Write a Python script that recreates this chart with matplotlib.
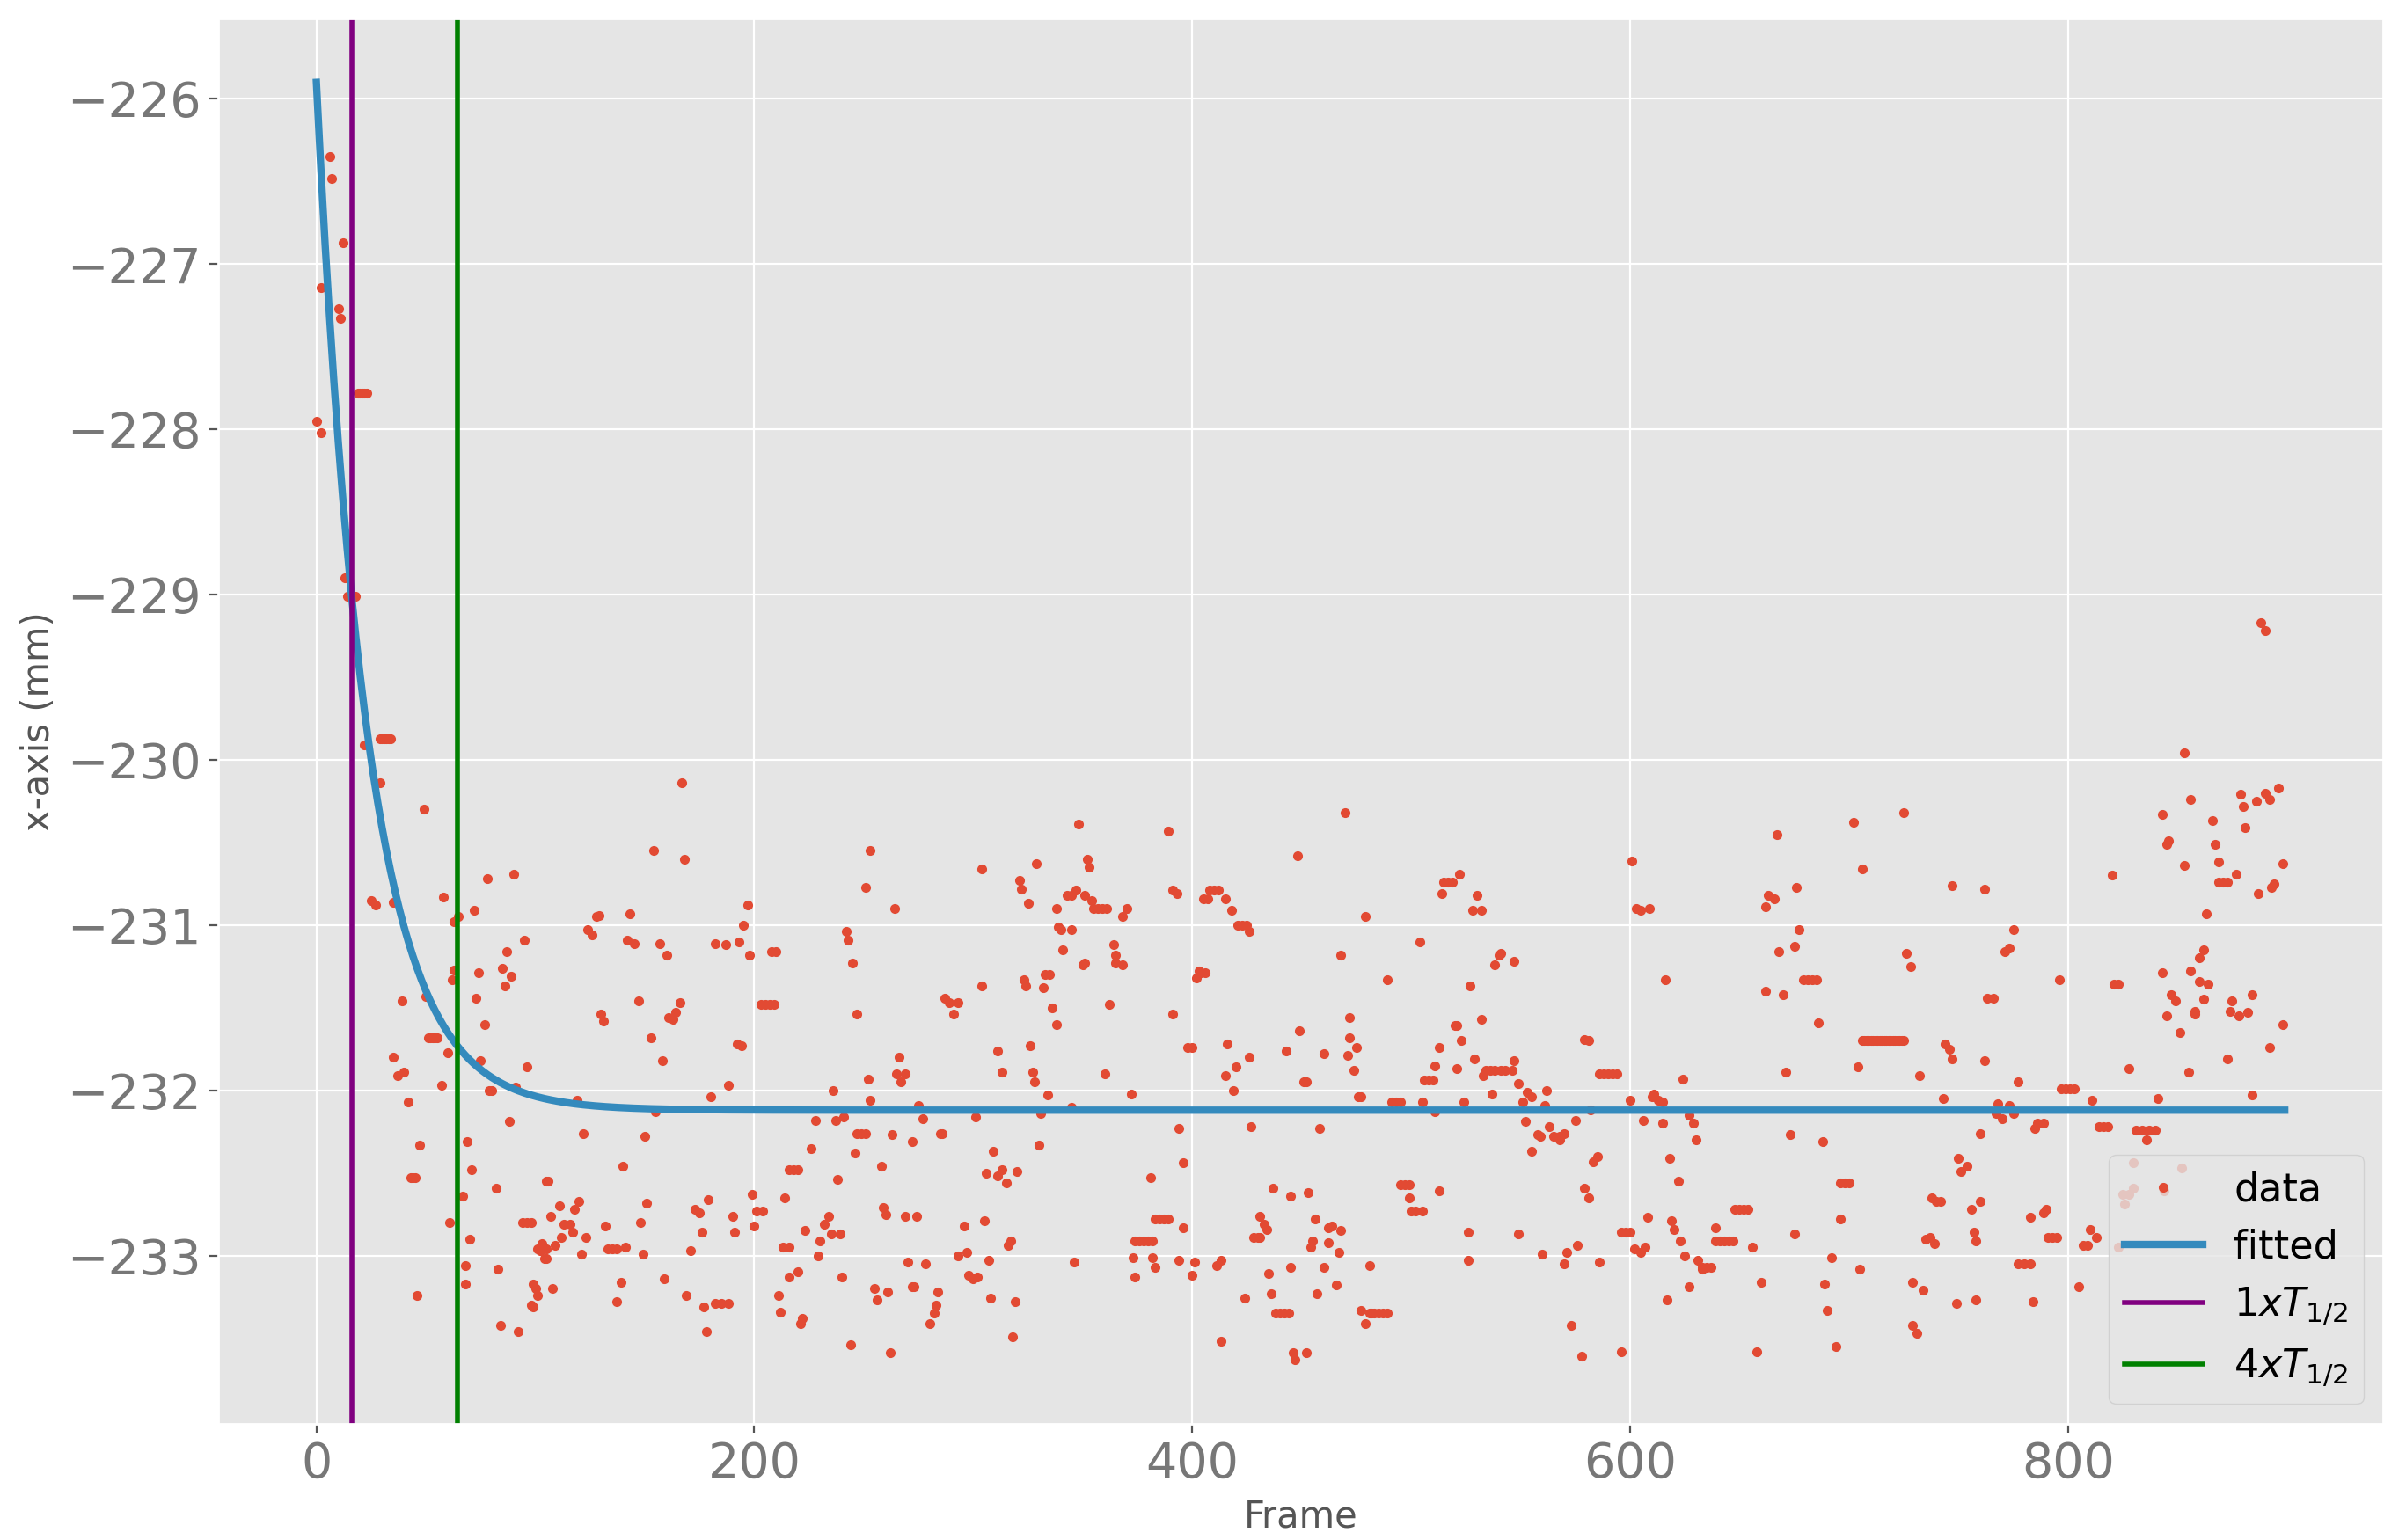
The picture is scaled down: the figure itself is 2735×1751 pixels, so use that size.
import numpy as np
import matplotlib
matplotlib.use("Agg")
import matplotlib.pyplot as plt

plt.style.use('ggplot')

# fit parameters (exponential decay towards a plateau)
fit_offset = -232.12
fit_amp = 6.22
t_half = 16.1
last_frame = 899

# data points, (frame, position) per stretch of frames
seg_0_105 = [(0,-227.95),(2,-228.02),(2,-227.14),(6,-226.35),(7,-226.48),(10,-227.27),(11,-227.33),(12,-226.87),
    (13,-228.9),(14,-229.01),(18,-229.01),(19,-227.78),(20,-227.78),(21,-227.78),(22,-227.78),(23,-227.78),
    (22,-229.91),(29,-229.87),(30,-229.87),(31,-229.87),(32,-229.87),(33,-229.87),(34,-229.87),(29,-230.14),
    (25,-230.85),(27,-230.88),(35,-230.86),(49,-230.30),(58,-230.83),(63,-230.98),(65,-230.95),(72,-230.91),
    (78,-230.72),(90,-230.69),(87,-231.16),(85,-231.26),(89,-231.31),(86,-231.37),(95,-231.09),(63,-231.27),
    (62,-231.33),(74,-231.29),(73,-231.44),(77,-231.6),(39,-231.46),(50,-231.43),(51,-231.68),(52,-231.68),
    (53,-231.68),(54,-231.68),(55,-231.68),(60,-231.77),(75,-231.82),(35,-231.8),(37,-231.91),(40,-231.89),
    (42,-232.07),(57,-231.97),(79,-232.0),(80,-232.0),(91,-231.98),(96,-231.86),(88,-232.19),(47,-232.33),
    (69,-232.31),(71,-232.48),(43,-232.53),(44,-232.53),(45,-232.53),(67,-232.64),(82,-232.59),(61,-232.8),
    (70,-232.9),(94,-232.8),(96,-232.8),(98,-232.8),(105,-232.55),(68,-233.06),(68,-233.17),(83,-233.08),
    (101,-232.96),(103,-232.96),(105,-232.96),(104,-233.02),(99,-233.17),(101,-233.24),(98,-233.3),
    (46,-233.24),(84,-233.42),(92,-233.46)]

seg_106_177 = [(167,-230.14),(154,-230.55),(168,-230.60),(128,-230.95),(129,-230.94),(143,-230.93),(124,-231.03),
    (126,-231.06),(142,-231.09),(145,-231.11),(157,-231.11),(160,-231.18),(147,-231.46),(166,-231.47),
    (130,-231.54),(131,-231.58),(161,-231.56),(163,-231.57),(164,-231.53),(153,-231.68),(158,-231.82),
    (119,-232.06),(155,-232.13),(122,-232.26),(150,-232.28),(140,-232.46),(106,-232.55),(120,-232.67),
    (118,-232.72),(111,-232.70),(107,-232.76),(113,-232.81),(116,-232.81),(117,-232.86),(112,-232.89),
    (109,-232.94),(123,-232.89),(132,-232.82),(148,-232.80),(151,-232.68),(103,-232.93),(102,-232.97),
    (105,-233.02),(121,-232.99),(133,-232.96),(135,-232.96),(137,-232.96),(141,-232.95),(149,-232.99),
    (171,-232.97),(173,-232.72),(175,-232.74),(176,-232.86),(100,-233.2),(108,-233.2),(99,-233.31),
    (139,-233.16),(137,-233.28),(159,-233.14),(169,-233.24)]

seg_178_253 = [(253,-230.55),(251,-230.77),(197,-230.88),(195,-231.0),(182,-231.11),(187,-231.12),(193,-231.1),
    (198,-231.18),(208,-231.16),(210,-231.16),(242,-231.04),(243,-231.09),(245,-231.23),(203,-231.48),
    (205,-231.48),(207,-231.48),(209,-231.48),(247,-231.54),(192,-231.72),(194,-231.73),(188,-231.97),
    (180,-232.04),(236,-232.0),(252,-231.93),(253,-232.06),(228,-232.18),(237,-232.18),(241,-232.16),
    (247,-232.26),(249,-232.26),(251,-232.26),(226,-232.35),(246,-232.38),(216,-232.48),(218,-232.48),
    (220,-232.48),(238,-232.54),(179,-232.66),(199,-232.63),(214,-232.65),(190,-232.76),(201,-232.73),
    (204,-232.73),(200,-232.82),(191,-232.86),(234,-232.76),(232,-232.81),(223,-232.85),(235,-232.87),
    (239,-232.87),(230,-232.91),(213,-232.95),(216,-232.95),(229,-233.0),(216,-233.13),(220,-233.1),
    (240,-233.13),(211,-233.24),(212,-233.34),(222,-233.38),(221,-233.41),(177,-233.31),(182,-233.29),
    (185,-233.29),(188,-233.29),(178,-233.46),(244,-233.54)]

seg_254_330 = [(264,-230.90),(304,-230.66),(321,-230.73),(322,-230.78),(325,-230.87),(329,-230.63),(287,-231.44),
    (289,-231.47),(293,-231.47),(291,-231.54),(304,-231.37),(323,-231.33),(324,-231.37),(266,-231.80),
    (265,-231.9),(269,-231.9),(267,-231.95),(311,-231.76),(313,-231.89),(326,-231.73),(327,-231.89),
    (328,-231.95),(275,-232.09),(277,-232.17),(301,-232.16),(263,-232.27),(272,-232.31),(285,-232.26),
    (286,-232.26),(330,-232.33),(258,-232.46),(309,-232.37),(306,-232.5),(311,-232.52),(313,-232.48),
    (315,-232.56),(320,-232.49),(259,-232.71),(260,-232.75),(269,-232.76),(274,-232.76),(296,-232.82),
    (305,-232.79),(317,-232.91),(316,-232.94),(293,-233.0),(297,-232.98),(307,-233.03),(270,-233.04),
    (278,-233.05),(298,-233.12),(300,-233.14),(302,-233.13),(255,-233.2),(256,-233.27),(261,-233.22),
    (272,-233.19),(273,-233.19),(284,-233.22),(283,-233.3),(282,-233.35),(280,-233.41),(308,-233.26),
    (319,-233.28),(318,-233.49),(262,-233.59)]

seg_331_406 = [(348,-230.39),(389,-230.43),(352,-230.6),(353,-230.65),(391,-230.79),(393,-230.81),(405,-230.84),
    (343,-230.82),(345,-230.82),(347,-230.79),(351,-230.82),(354,-230.85),(355,-230.9),(357,-230.9),
    (359,-230.9),(361,-230.9),(338,-230.9),(370,-230.9),(368,-230.95),(339,-231.01),(340,-231.03),
    (345,-231.03),(341,-231.15),(364,-231.12),(365,-231.18),(365,-231.23),(368,-231.24),(350,-231.24),
    (351,-231.23),(333,-231.3),(335,-231.3),(332,-231.38),(403,-231.28),(402,-231.32),(362,-231.48),
    (336,-231.5),(338,-231.6),(391,-231.54),(398,-231.74),(400,-231.74),(360,-231.9),(334,-232.03),
    (372,-232.02),(345,-232.1),(331,-232.14),(394,-232.23),(396,-232.44),(381,-232.53),(383,-232.78),
    (385,-232.78),(387,-232.78),(389,-232.78),(396,-232.83),(374,-232.91),(376,-232.91),(378,-232.91),
    (380,-232.91),(382,-232.91),(346,-233.04),(373,-233.01),(382,-233.01),(383,-233.07),(394,-233.03),
    (401,-233.04),(400,-233.12),(374,-233.13)]

seg_407_482 = [(470,-230.32),(448,-230.58),(479,-230.95),(408,-230.79),(410,-230.79),(412,-230.79),(407,-230.84),
    (415,-230.84),(418,-230.91),(421,-231.0),(423,-231.0),(425,-231.0),(426,-231.04),(468,-231.18),
    (404,-231.29),(406,-231.29),(472,-231.56),(472,-231.68),(475,-231.74),(471,-231.79),(474,-231.88),
    (476,-232.04),(477,-232.04),(449,-231.64),(416,-231.72),(443,-231.76),(460,-231.78),(426,-231.80),
    (420,-231.86),(415,-231.91),(419,-232.0),(451,-231.95),(452,-231.95),(427,-232.22),(458,-232.23),
    (437,-232.59),(445,-232.64),(453,-232.62),(431,-232.76),(433,-232.81),(434,-232.84),(428,-232.89),
    (430,-232.89),(431,-232.89),(456,-232.78),(462,-232.83),(464,-232.82),(468,-232.85),(455,-232.91),
    (454,-232.95),(462,-232.92),(467,-232.98),(411,-233.06),(413,-233.03),(435,-233.11),(445,-233.07),
    (460,-233.07),(481,-233.06),(466,-233.18),(424,-233.26),(436,-233.23),(457,-233.23),(438,-233.35),
    (440,-233.35),(442,-233.35),(444,-233.35),(477,-233.33),(482,-233.35),(479,-233.41),(413,-233.52),
    (446,-233.59),(447,-233.63),(452,-233.59)]

seg_483_556 = [(522,-230.69),(515,-230.74),(517,-230.74),(519,-230.74),(514,-230.81),(530,-230.82),(528,-230.91),
    (532,-230.91),(504,-231.1),(540,-231.18),(541,-231.17),(538,-231.24),(547,-231.22),(489,-231.33),
    (527,-231.37),(532,-231.57),(520,-231.61),(521,-231.61),(523,-231.70),(513,-231.74),(511,-231.85),
    (529,-231.81),(521,-231.87),(547,-231.82),(534,-231.88),(536,-231.88),(538,-231.88),(533,-231.91),
    (541,-231.88),(543,-231.88),(546,-231.88),(506,-231.94),(508,-231.94),(510,-231.94),(549,-231.96),
    (537,-232.02),(553,-232.01),(555,-232.04),(551,-232.07),(491,-232.07),(493,-232.07),(495,-232.07),
    (505,-232.07),(524,-232.07),(511,-232.13),(552,-232.19),(555,-232.37),(495,-232.57),(497,-232.57),
    (499,-232.57),(499,-232.65),(500,-232.73),(502,-232.73),(505,-232.73),(513,-232.61),(526,-232.86),
    (549,-232.87),(526,-233.03),(481,-233.35),(483,-233.35),(485,-233.35),(487,-233.35),(489,-233.35)]

seg_557_633 = [(601,-230.61),(603,-230.9),(605,-230.91),(609,-230.9),(616,-231.33),(579,-231.69),(581,-231.7),
    (586,-231.9),(588,-231.9),(590,-231.9),(592,-231.9),(594,-231.9),(624,-231.93),(562,-232.0),
    (561,-232.09),(600,-232.06),(611,-232.02),(610,-232.04),(613,-232.06),(615,-232.07),(582,-232.12),
    (575,-232.18),(606,-232.18),(615,-232.2),(627,-232.15),(629,-232.2),(630,-232.3),(558,-232.27),
    (559,-232.28),(563,-232.22),(565,-232.28),(568,-232.28),(568,-232.3),(570,-232.26),(585,-232.4),
    (583,-232.43),(618,-232.41),(622,-232.55),(579,-232.59),(581,-232.65),(608,-232.77),(619,-232.79),
    (620,-232.84),(596,-232.86),(598,-232.86),(600,-232.86),(623,-232.91),(576,-232.94),(571,-232.98),
    (602,-232.96),(605,-232.98),(607,-232.95),(560,-232.99),(570,-233.05),(586,-233.04),(625,-233.0),
    (631,-233.03),(633,-233.08),(627,-233.19),(617,-233.27),(573,-233.42),(578,-233.61),(596,-233.58)]

seg_634_706 = [(702,-230.38),(667,-230.45),(706,-230.66),(676,-230.77),(663,-230.82),(666,-230.84),(662,-230.89),
    (677,-231.03),(668,-231.16),(675,-231.13),(679,-231.33),(681,-231.33),(683,-231.33),(685,-231.33),
    (662,-231.4),(670,-231.42),(686,-231.59),(704,-231.86),(671,-231.89),(673,-232.27),(688,-232.31),
    (696,-232.56),(698,-232.56),(700,-232.56),(696,-232.78),(648,-232.72),(650,-232.72),(652,-232.72),
    (654,-232.72),(639,-232.83),(639,-232.91),(641,-232.91),(643,-232.91),(645,-232.91),(647,-232.91),
    (656,-232.95),(675,-232.87),(633,-233.07),(635,-233.07),(637,-233.07),(692,-233.01),(705,-233.08),
    (660,-233.16),(689,-233.17),(690,-233.33),(658,-233.58),(694,-233.55)]

# flat stretch where the tracker held one value
seg_plateau = [(706,-231.7),(707,-231.7),(708,-231.7),(709,-231.7),(710,-231.7),(711,-231.7),(712,-231.7),
    (713,-231.7),(714,-231.7),(715,-231.7),(716,-231.7),(717,-231.7),(718,-231.7),(719,-231.7),
    (720,-231.7),(721,-231.7),(722,-231.7),(723,-231.7),(724,-231.7),(725,-231.7)]

seg_726_788 = [(725,-230.32),(747,-230.76),(762,-230.78),(775,-231.03),(773,-231.14),(771,-231.16),(726,-231.17),
    (728,-231.25),(763,-231.44),(766,-231.44),(744,-231.72),(746,-231.75),(747,-231.81),(762,-231.82),
    (732,-231.91),(777,-231.95),(743,-232.05),(768,-232.08),(773,-232.09),(770,-232.17),(767,-232.14),
    (775,-232.14),(786,-232.2),(785,-232.23),(760,-232.26),(750,-232.41),(751,-232.49),(754,-232.46),
    (738,-232.65),(740,-232.67),(742,-232.67),(760,-232.67),(756,-232.72),(783,-232.77),(735,-232.9),
    (737,-232.89),(739,-232.93),(757,-232.86),(758,-232.91),(777,-233.05),(780,-233.05),(783,-233.05),
    (729,-233.16),(734,-233.21),(749,-233.29),(758,-233.27),(784,-233.28),(729,-233.42),(731,-233.47)]

seg_789_899 = [(888,-229.17),(890,-229.22),(853,-229.96),(843,-230.33),(856,-230.24),(879,-230.21),(880,-230.28),
    (886,-230.25),(890,-230.2),(892,-230.24),(896,-230.17),(866,-230.37),(881,-230.41),(846,-230.49),
    (845,-230.51),(867,-230.51),(869,-230.62),(853,-230.64),(820,-230.7),(869,-230.74),(871,-230.74),
    (873,-230.74),(877,-230.69),(887,-230.81),(894,-230.75),(893,-230.77),(898,-230.63),(863,-230.93),
    (862,-231.15),(860,-231.2),(843,-231.29),(856,-231.28),(860,-231.34),(864,-231.36),(796,-231.33),
    (821,-231.36),(823,-231.36),(847,-231.42),(849,-231.46),(862,-231.45),(845,-231.55),(858,-231.54),
    (858,-231.52),(875,-231.46),(884,-231.42),(874,-231.52),(878,-231.55),(882,-231.53),(898,-231.6),
    (851,-231.65),(892,-231.74),(873,-231.81),(828,-231.87),(855,-231.89),(884,-232.03),(797,-231.99),
    (799,-231.99),(801,-231.99),(803,-231.99),(811,-232.06),(841,-232.05),(789,-232.2),(814,-232.22),
    (816,-232.22),(818,-232.22),(831,-232.24),(834,-232.24),(837,-232.24),(840,-232.24),(836,-232.3),
    (830,-232.44),(852,-232.47),(830,-232.59),(825,-232.63),(828,-232.63),(826,-232.69),(844,-232.61),
    (823,-232.95),(789,-232.74),(790,-232.72),(791,-232.89),(793,-232.89),(795,-232.89),(810,-232.84),
    (813,-232.89),(807,-232.94),(809,-232.94),(805,-233.19)]

segments = [seg_0_105, seg_106_177, seg_178_253, seg_254_330, seg_331_406, seg_407_482,
            seg_483_556, seg_557_633, seg_634_706, seg_plateau, seg_726_788, seg_789_899]
pts = np.array(sorted(p for s in segments for p in s))
frames = pts[:, 0]
xpos = pts[:, 1]

t = np.arange(0, last_frame + 1)
fitted = fit_offset + fit_amp * 0.5 ** (t / t_half)

fig, ax = plt.subplots(figsize=(13.675, 8.755), dpi=200)
fig.subplots_adjust(left=0.0906, right=0.9905, top=0.988, bottom=0.0756)

ax.plot(frames, xpos, '.', color='#E24A33', label='data')
ax.plot(t, fitted, color='#348ABD', lw=3, label='fitted')
ax.axvline(t_half, color='purple', lw=2, label=r'$1xT_{1/2}$')
ax.axvline(4 * t_half, color='green', lw=2, label=r'$4xT_{1/2}$')

ax.set_yticks(np.arange(-233, -225, 1))
ax.set_xticks(np.arange(0, 900, 200))
ax.tick_params(labelsize=20, labelcolor='#777777')
ax.set_xlabel('Frame', fontsize=15)
ax.set_ylabel('x-axis (mm)', fontsize=15)
ax.legend(loc='lower right', fontsize=16)

plt.savefig('out.png', dpi=200)
plt.close()
